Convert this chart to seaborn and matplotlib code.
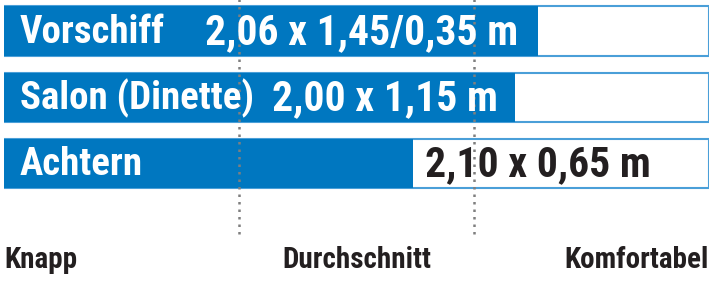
import matplotlib
matplotlib.use("Agg")
import matplotlib.pyplot as plt
import seaborn as sns
import pandas as pd
from matplotlib import font_manager

# ---- data ----
areas = ["Vorschiff", "Salon (Dinette)", "Achtern"]
sizes = ["2,06 x 1,45/0,35 m", "2,00 x 1,15 m", "2,10 x 0,65 m"]
scores = [75.7, 72.5, 58.0]          # comfort index 0..100
scale_max = [100, 100, 100]
thresholds = [33.3, 66.7]
scale_labels = ["Knapp", "Durchschnitt", "Komfortabel"]

df = pd.DataFrame({"area": areas, "score": scores, "full": scale_max})

sns.set_theme(style="white")
names = {f.name for f in font_manager.fontManager.ttflist}
fam = [f for f in ["Roboto Condensed", "Liberation Sans Narrow", "DejaVu Sans"] if f in names]
plt.rcParams["font.family"] = fam

BLUE = "#0077c0"
EDGE = "#4a9fd8"
DARK = "#231f20"

W, H = 712, 282
fig = plt.figure(figsize=(W / 100, H / 100), dpi=100)
ax = fig.add_axes([4 / W, 0, 705 / W, 1])

sns.barplot(data=df, x="full", y="area", orient="h", color="white",
            edgecolor=EDGE, linewidth=1.5, width=0.74, ax=ax, zorder=1)
sns.barplot(data=df, x="score", y="area", orient="h", color=BLUE,
            saturation=1, edgecolor="none", linewidth=0, width=0.74, ax=ax, zorder=2)

ax.set_xlim(0, 100)
ax.set_ylim((282 - 31) / 66.25, -31 / 66.25)
ax.axis("off")

for t in thresholds:
    ax.plot([t, t], [-0.5, (237 - 31) / 66.25], color="#7f7f7f", lw=1.8,
            ls=(0, (1, 2)), zorder=3, clip_on=False)

px = lambda p: (p - 4) / 7.05
lab_x = [20, 20, 20]
val_x = [205, 272, 425]
for i, (a, s, v) in enumerate(zip(areas, sizes, scores)):
    ax.text(px(lab_x[i]), i + 0.02, a, color="white", fontsize=28, fontweight="bold",
            va="center", ha="left", zorder=4)
    col = "white" if px(val_x[i]) < v else DARK
    ax.text(px(val_x[i]), i + 0.02, s, color=col, fontsize=30, fontweight="bold",
            va="center", ha="left", zorder=4)

yb = (268 - 31) / 66.25
ax.text(0, yb, scale_labels[0], ha="left", va="baseline", fontsize=21,
        fontweight="bold", color=DARK)
ax.text(50, yb, scale_labels[1], ha="center", va="baseline", fontsize=21,
        fontweight="bold", color=DARK)
ax.text(100, yb, scale_labels[2], ha="right", va="baseline", fontsize=21,
        fontweight="bold", color=DARK)

fig.savefig("out.png", dpi=100)
